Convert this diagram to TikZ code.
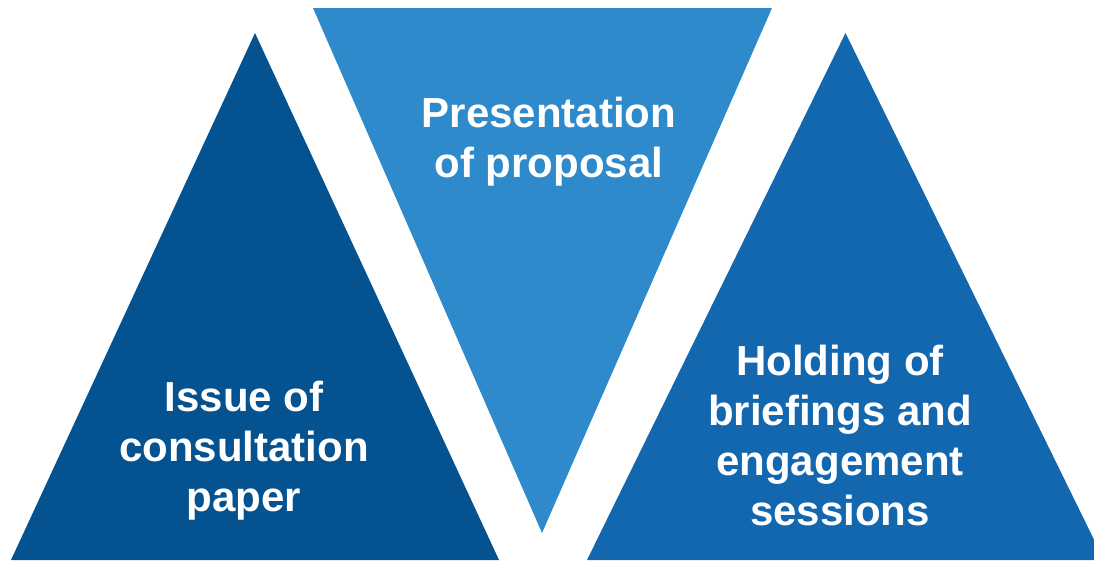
\documentclass[tikz,border=0pt]{standalone}
\usepackage{fontspec}
\setmainfont{Liberation Sans}
\definecolor{darkblue}{RGB}{4,82,143}
\definecolor{midblue}{RGB}{46,138,202}
\definecolor{deepblue}{RGB}{18,103,175}
\tikzset{
	label/.style={text=white,font=\bfseries\fontsize{42}{50}\selectfont,align=center,inner sep=0pt}
}
\begin{document}
\begin{tikzpicture}[x=1pt,y=-1pt,line join=round]
	\useasboundingbox (0,0) rectangle (1094,560);
	\clip (0,0) rectangle (1094,560);
	% three triangles, the middle one upside down
	\fill[darkblue] (255,33) -- (11,560) -- (499,560) -- cycle;
	\fill[midblue] (313,8) -- (772,8) -- (542,533) -- cycle;
	\fill[deepblue] (845.5,33) -- (587,560) -- (1104,560) -- cycle;
	% texts
	\node[label] (present) at (549,142) {Presentation\\of proposal};
	\node[label] (issue) at (244,451) {Issue of\\consultation\\paper};
	\node[label] (holding) at (840,435) {Holding of\\briefings and\\engagement\\sessions};
\end{tikzpicture}
\end{document}
